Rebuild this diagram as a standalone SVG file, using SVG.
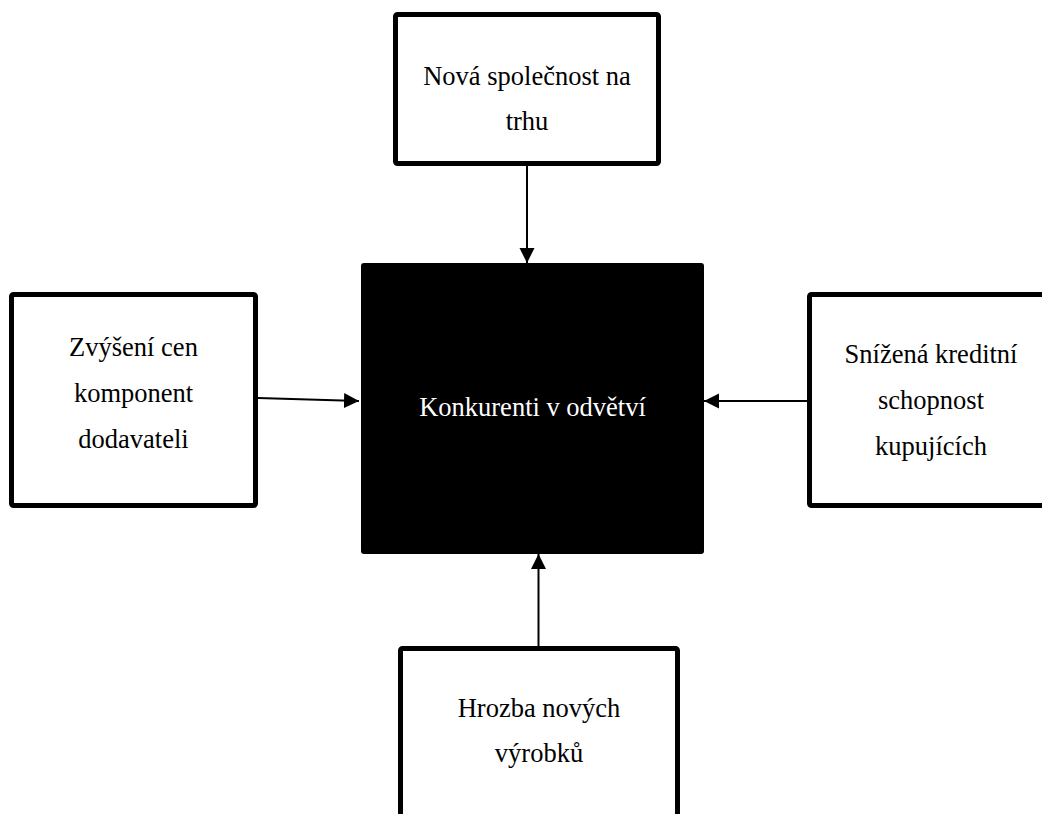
<svg xmlns="http://www.w3.org/2000/svg" width="1042" height="814" viewBox="0 0 1042 814">
<style>
.box{fill:#fff;stroke:#000;stroke-width:5}
.t{font-family:"Liberation Serif","Times New Roman",serif;font-size:26.5px;fill:#000;text-anchor:middle}
.w{fill:#fff}
.c{stroke:#000;stroke-width:2;fill:none;marker-end:url(#ah)}
</style>
<defs>
<marker id="ah" markerUnits="userSpaceOnUse" markerWidth="16" markerHeight="16" refX="15" refY="7.5" orient="auto">
<path d="M0,0 L15,7.5 L0,15 Z" fill="#000"/>
</marker>
</defs>
<rect width="1042" height="814" fill="#fff"/>
<g id="connectors">
<line class="c" x1="258" y1="398" x2="359" y2="401"/>
<line class="c" x1="527" y1="166" x2="527" y2="263"/>
<line class="c" x1="807" y1="401" x2="704" y2="401"/>
<line class="c" x1="538.5" y1="646" x2="538.5" y2="554"/>
</g>
<g id="node-top">
<rect class="box" x="395.5" y="14.5" width="263" height="149" rx="2"/>
<text class="t" x="527" y="85">Nová společnost na</text>
<text class="t" x="527" y="130">trhu</text>
</g>
<g id="node-left">
<rect class="box" x="11.5" y="294.5" width="244" height="211" rx="2"/>
<text class="t" x="133.5" y="356">Zvýšení cen</text>
<text class="t" x="133.5" y="402">komponent</text>
<text class="t" x="133.5" y="448">dodavateli</text>
</g>
<g id="node-center">
<rect x="361" y="263" width="343" height="291" rx="3" fill="#000"/>
<text class="t w" x="532.5" y="416">Konkurenti v odvětví</text>
</g>
<g id="node-right">
<rect class="box" x="809.5" y="294.5" width="244" height="211" rx="2"/>
<text class="t" x="931" y="363">Snížená kreditní</text>
<text class="t" x="931" y="409">schopnost</text>
<text class="t" x="931" y="455">kupujících</text>
</g>
<g id="node-bottom">
<rect class="box" x="400.5" y="648.5" width="277" height="200" rx="2"/>
<text class="t" x="539" y="717">Hrozba nových</text>
<text class="t" x="539" y="762">výrobků</text>
</g>
</svg>
